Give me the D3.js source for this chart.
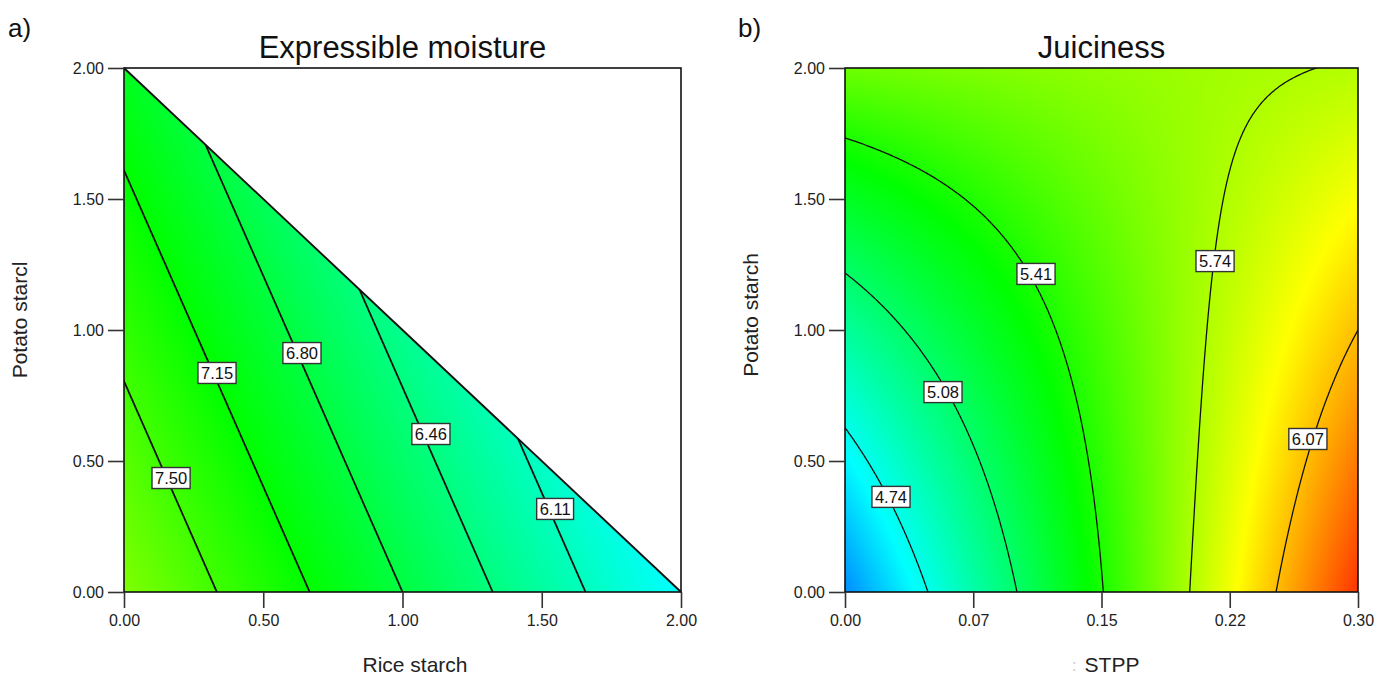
<!DOCTYPE html>
<html>
<head>
<meta charset="utf-8">
<script src="https://cdn.jsdelivr.net/npm/d3@7"></script>
<style>
  body { margin: 0; background: #fff; }
  svg { display: block; }
</style>
</head>
<body>
<script>
// panel a: Expressible moisture, linear mixture surface [1, rice, potato]
const aCoef = [7.85, -1.05, -0.435];
const aLevels = [6.11, 6.46, 6.80, 7.15, 7.50];
const aLabelPos = [[1.548, 0.317], [1.102, 0.603], [0.639, 0.912], [0.334, 0.836], [0.169, 0.435]];
const aTicks = [0, 0.5, 1, 1.5, 2];
const aTickLabels = ["0.00", "0.50", "1.00", "1.50", "2.00"];
const aColorStops = [4.35, 5.75, 7.15, 8.55, 9.95];

// panel b: Juiciness, coded X = STPP, Y = potato starch
// terms [1, X, Y, XY, Y^2, XY^2]
const bCoef = [5.51, 0.56, 0.135, -0.45, 0.028, -0.03];
const bLevels = [4.74, 5.08, 5.41, 5.74, 6.07];
const bLabelPos = [[0.0269, 0.363], [0.0573, 0.763], [0.1117, 1.214], [0.2164, 1.263], [0.2707, 0.584]];
const bXTicks = [0, 0.075, 0.15, 0.225, 0.3];
const bXTickLabels = ["0.00", "0.07", "0.15", "0.22", "0.30"];
const bYTicks = [0, 0.5, 1, 1.5, 2];
const bYTickLabels = ["0.00", "0.50", "1.00", "1.50", "2.00"];
const bColorStops = [4.1, 4.69, 5.35, 5.92, 6.5];

const rainbow = ["#0000ff", "#00ffff", "#00ff00", "#ffff00", "#ff0000"];
const FONT = "'Liberation Sans', Arial, sans-serif";

function fa(x, y) {
    return aCoef[0] + aCoef[1] * x + aCoef[2] * y;
}
function fb(x, y) {
    var X = (x - 0.15) / 0.15, Y = y - 1;
    return bCoef[0] + bCoef[1] * X + bCoef[2] * Y + bCoef[3] * X * Y + bCoef[4] * Y * Y + bCoef[5] * X * Y * Y;
}

const svg = d3.select("body").append("svg")
    .attr("width", 1386)
    .attr("height", 677)
    .style("font-family", FONT);
const defs = svg.append("defs");

function panel(o) {
    var x = d3.scaleLinear().domain(o.xDomain).range([o.x0, o.x1]);
    var y = d3.scaleLinear().domain(o.yDomain).range([o.y1, o.y0]);
    var g = svg.append("g");

    //clip to plot area (triangle for the mixture panel)
    var clipId = "clip-" + o.id;
    var clip = defs.append("clipPath").attr("id", clipId);
    if (o.triangle) {
        clip.append("path").attr("d", d3.line()(o.triangle.map(p => [x(p[0]), y(p[1])])) + "Z");
    } else {
        clip.append("rect").attr("x", o.x0).attr("y", o.y0).attr("width", o.x1 - o.x0).attr("height", o.y1 - o.y0);
    }

    //colour field
    var w = o.x1 - o.x0, h = o.y1 - o.y0;
    var color = d3.scaleLinear().domain(o.stops).range(rainbow).clamp(true);
    var canvas = document.createElement("canvas");
    canvas.width = w;
    canvas.height = h;
    var ctx = canvas.getContext("2d");
    var img = ctx.createImageData(w, h);
    for (var j = 0; j < h; j++) {
        for (var i = 0; i < w; i++) {
            var v = o.f(x.invert(o.x0 + i + 0.5), y.invert(o.y0 + j + 0.5));
            var c = d3.rgb(color(v));
            var k = (j * w + i) * 4;
            img.data[k] = c.r;
            img.data[k + 1] = c.g;
            img.data[k + 2] = c.b;
            img.data[k + 3] = 255;
        }
    }
    ctx.putImageData(img, 0, 0);
    g.append("image")
        .attr("href", canvas.toDataURL())
        .attr("x", o.x0).attr("y", o.y0)
        .attr("width", w).attr("height", h)
        .attr("clip-path", "url(#" + clipId + ")");

    //contour lines on a slightly padded grid so region edges fall outside the clip
    var n = 260, m = 260;
    var sx = o.xDomain[1] - o.xDomain[0], sy = o.yDomain[1] - o.yDomain[0];
    var gx0 = o.xDomain[0] - 0.03 * sx, gx1 = o.xDomain[1] + 0.03 * sx;
    var gy0 = o.yDomain[0] - 0.03 * sy, gy1 = o.yDomain[1] + 0.03 * sy;
    var values = new Array(n * m);
    for (var jj = 0; jj < m; jj++) {
        for (var ii = 0; ii < n; ii++) {
            values[jj * n + ii] = o.f(gx0 + ii * (gx1 - gx0) / (n - 1), gy0 + jj * (gy1 - gy0) / (m - 1));
        }
    }
    var contours = d3.contours().size([n, m]).thresholds(o.levels)(values);
    var proj = d3.geoTransform({
        point: function (px, py) {
            this.stream.point(
                x(gx0 + (px - 0.5) * (gx1 - gx0) / (n - 1)),
                y(gy0 + (py - 0.5) * (gy1 - gy0) / (m - 1)));
        }
    });
    g.append("g")
        .attr("clip-path", "url(#" + clipId + ")")
        .selectAll("path")
        .data(contours)
        .join("path")
        .attr("d", d3.geoPath(proj))
        .attr("fill", "none")
        .attr("stroke", "#111")
        .attr("stroke-width", o.lineW);

    //frame
    g.append("rect")
        .attr("x", o.x0).attr("y", o.y0)
        .attr("width", w).attr("height", h)
        .attr("fill", "none")
        .attr("stroke", "#111")
        .attr("stroke-width", 1.6);
    if (o.triangle) {
        g.append("line")
            .attr("x1", x(o.triangle[1][0])).attr("y1", y(o.triangle[1][1]))
            .attr("x2", x(o.triangle[2][0])).attr("y2", y(o.triangle[2][1]))
            .attr("stroke", "#111")
            .attr("stroke-width", 1.9);
    }

    //contour labels
    var lab = g.selectAll("g.lab")
        .data(o.levels)
        .join("g")
        .attr("class", "lab")
        .attr("transform", (d, i) => "translate(" + x(o.labels[i][0]) + "," + y(o.labels[i][1]) + ")");
    lab.append("text")
        .attr("text-anchor", "middle")
        .attr("dy", "0.36em")
        .attr("font-size", 16.5)
        .attr("fill", "#111")
        .text(d => d.toFixed(2));
    lab.each(function () {
        var t = d3.select(this).select("text");
        var bb = t.node().getBBox();
        d3.select(this).insert("rect", "text")
            .attr("x", bb.x - 3).attr("y", -10.5)
            .attr("width", bb.width + 6).attr("height", 21)
            .attr("fill", "#fff")
            .attr("stroke", "#333")
            .attr("stroke-width", 1.4);
    });

    //axes
    var ax = g.append("g")
        .attr("transform", "translate(0," + o.y1 + ")")
        .call(d3.axisBottom(x).tickValues(o.xTicks).tickFormat((d, i) => o.xTickLabels[i]).tickSize(16).tickPadding(7));
    var ay = g.append("g")
        .attr("transform", "translate(" + o.x0 + ",0)")
        .call(d3.axisLeft(y).tickValues(o.yTicks).tickFormat((d, i) => o.yTickLabels[i]).tickSize(16).tickPadding(4));
    [ax, ay].forEach(function (a) {
        a.select(".domain").remove();
        a.selectAll("line").attr("stroke", "#333").attr("stroke-width", 1.6);
        a.selectAll("text").attr("font-size", 16).attr("fill", "#222")
            .style("font-family", FONT);
    });

    //texts
    var cx = (o.x0 + o.x1) / 2;
    svg.append("text").attr("x", cx).attr("y", 58).attr("text-anchor", "middle")
        .attr("font-size", 31).attr("fill", "#111").text(o.title);
    svg.append("text").attr("x", o.tagX).attr("y", 37)
        .attr("font-size", 26).attr("fill", "#111").text(o.tag);
    svg.append("text").attr("x", o.xTitleX).attr("y", 672).attr("text-anchor", "middle")
        .attr("font-size", 21).attr("fill", "#222").text(o.xTitle);
    svg.append("text")
        .attr("transform", "translate(" + o.yTitleX + "," + o.yTitleY + ") rotate(-90)")
        .attr("text-anchor", "middle")
        .attr("font-size", 21).attr("fill", "#222").text(o.yTitle);
}

panel({
    id: "a", x0: 124, x1: 681, y0: 68, y1: 592,
    xDomain: [0, 2], yDomain: [0, 2],
    f: fa, levels: aLevels, labels: aLabelPos, stops: aColorStops,
    triangle: [[0, 0], [0, 2], [2, 0]], lineW: 1.8,
    xTicks: aTicks, xTickLabels: aTickLabels, yTicks: aTicks, yTickLabels: aTickLabels,
    title: "Expressible moisture", tag: "a)", tagX: 8,
    xTitle: "Rice starch", xTitleX: 415,
    yTitle: "Potato starcl", yTitleX: 27, yTitleY: 320
});

panel({
    id: "b", x0: 845, x1: 1358, y0: 68, y1: 592,
    xDomain: [0, 0.3], yDomain: [0, 2],
    f: fb, levels: bLevels, labels: bLabelPos, stops: bColorStops,
    triangle: null, lineW: 1.3,
    xTicks: bXTicks, xTickLabels: bXTickLabels, yTicks: bYTicks, yTickLabels: bYTickLabels,
    title: "Juiciness", tag: "b)", tagX: 738,
    xTitle: "STPP", xTitleX: 1112,
    yTitle: "Potato starch", yTitleX: 758, yTitleY: 315
});

// faint stray mark before the STPP axis title
svg.append("text").attr("x", 1072).attr("y", 671).attr("font-size", 16)
    .attr("fill", "#c8c8c8").text(":");
</script>
</body>
</html>
